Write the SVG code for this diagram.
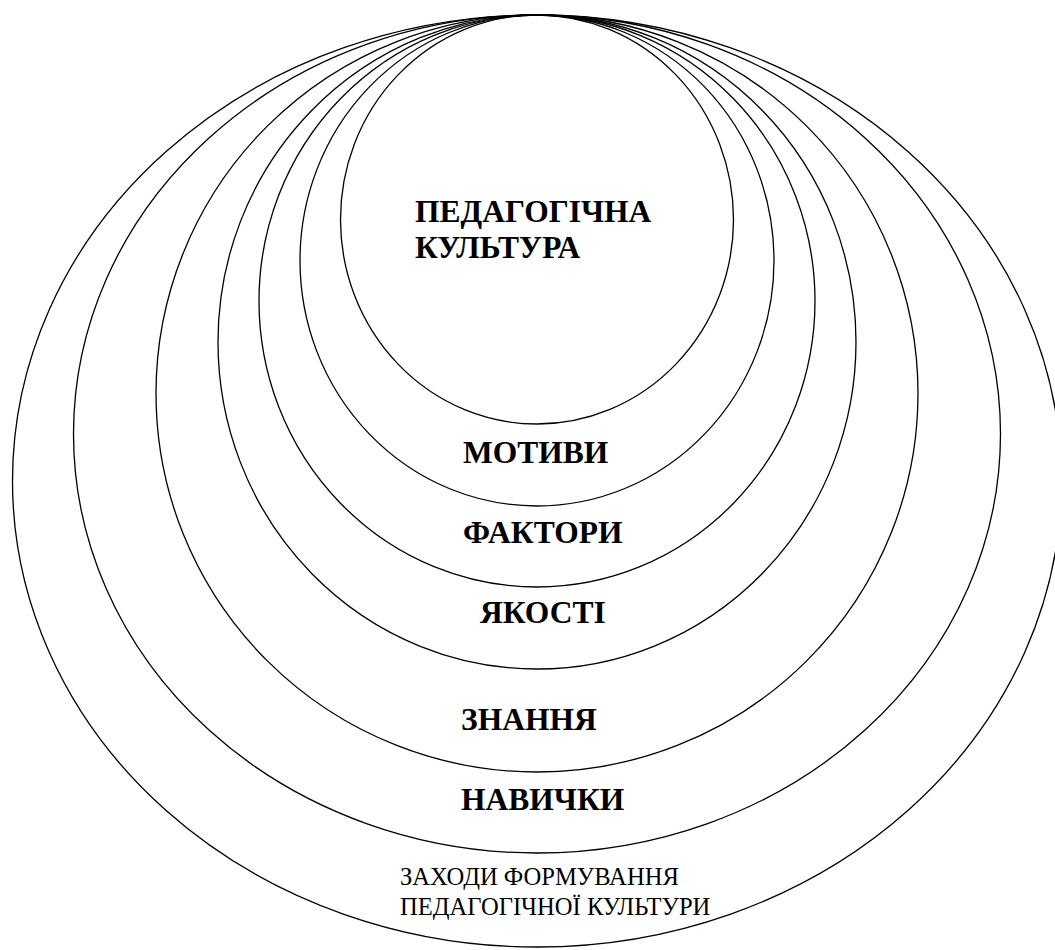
<svg xmlns="http://www.w3.org/2000/svg" width="1055" height="950" viewBox="0 0 1055 950">
<style>
.ring{fill:none;stroke:#000;stroke-width:1.3}
.b{font-family:"Liberation Serif","Times New Roman",serif;font-weight:bold;font-size:31.5px;fill:#000}
.r{font-family:"Liberation Serif","Times New Roman",serif;font-size:24.6px;fill:#000}
</style>
<rect width="1055" height="950" fill="#fff"/>
<g id="zakhody">
<ellipse class="ring" cx="537" cy="481" rx="524.5" ry="466"/>
<text class="r" x="400" y="885">ЗАХОДИ ФОРМУВАННЯ</text>
<text class="r" x="400" y="915">ПЕДАГОГІЧНОЇ КУЛЬТУРИ</text>
</g>
<g id="navychky">
<ellipse class="ring" cx="537" cy="434" rx="463.5" ry="419"/>
<text class="b" x="461" y="810">НАВИЧКИ</text>
</g>
<g id="znannia">
<ellipse class="ring" cx="537" cy="393.5" rx="381" ry="378.5"/>
<text class="b" x="461" y="730">ЗНАННЯ</text>
</g>
<g id="yakosti">
<ellipse class="ring" cx="537" cy="342" rx="319" ry="327"/>
<text class="b" x="480" y="623">ЯКОСТІ</text>
</g>
<g id="faktory">
<ellipse class="ring" cx="537" cy="301" rx="278" ry="286"/>
<text class="b" x="463" y="543">ФАКТОРИ</text>
</g>
<g id="motyvy">
<ellipse class="ring" cx="537" cy="260.5" rx="237" ry="245.5"/>
<text class="b" x="463" y="463">МОТИВИ</text>
</g>
<g id="pedagogichna-kultura">
<ellipse class="ring" cx="537" cy="219.5" rx="196.5" ry="204.5"/>
<text class="b" x="415" y="222">ПЕДАГОГІЧНА</text>
<text class="b" x="415" y="258">КУЛЬТУРА</text>
</g>
<g id="connectors"/>
</svg>
